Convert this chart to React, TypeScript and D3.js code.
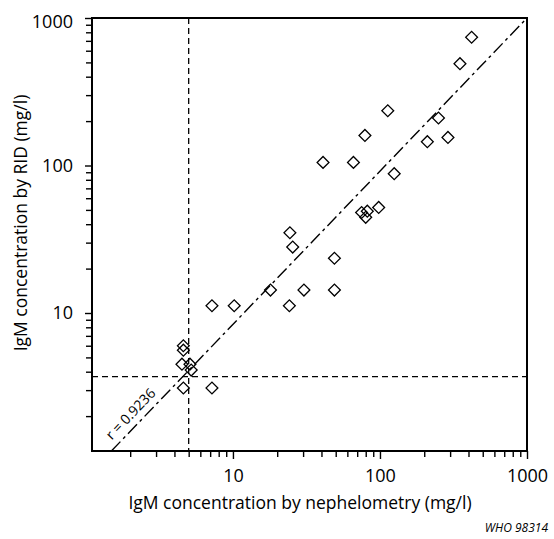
import * as d3 from "d3";
import React, { useEffect, useRef } from "react";

// nephelometry (x) vs RID (y), mg/l
const nephelometry = [
    420, 350, 113, 79, 41, 66, 250, 210, 290, 125, 98, 75, 82, 80,
    24.4, 25.5, 49, 18, 30.4, 49, 24.2, 7.2, 10.2,
    4.6, 4.6, 4.5, 5.1, 5.2, 4.6, 7.2,
];
const rid = [
    740, 490, 235, 160, 105, 105, 210, 145, 155, 88, 52, 48, 49, 44.5,
    35, 28, 23.5, 14.3, 14.3, 14.3, 11.2, 11.2, 11.2,
    6.0, 5.6, 4.5, 4.5, 4.1, 3.1, 3.1,
];
const majorTicks = [10, 100, 1000];
const minorTicks = [1, 10, 100].flatMap((d) => [2, 3, 4, 5, 6, 7, 8, 9].map((m) => m * d));
const fitLine = [
    [1.49, 1.16],
    [1000, 1000],
];
const cutoffX = 5;
const cutoffY = 3.7;
const rLabel = "r = 0.9236";

const W = 554;
const H = 539;
const font = "'Open Sans', sans-serif";

export default function App() {
    const ref = useRef<SVGSVGElement>(null);

    useEffect(() => {
        const svg = d3.select(ref.current);
        svg.selectAll("*").remove();

        const x = d3.scaleLog().domain([1.1, 1000]).range([92, 527]);
        const y = d3.scaleLog().domain([1.16, 1000]).range([451, 18]);

        svg.append("defs")
            .append("clipPath")
            .attr("id", "plot")
            .append("rect")
            .attr("x", 92)
            .attr("y", 18)
            .attr("width", 435)
            .attr("height", 433);

        const g = svg.append("g");

        // cutoff lines
        g.append("line")
            .attr("x1", x(cutoffX))
            .attr("x2", x(cutoffX))
            .attr("y1", y.range()[1])
            .attr("y2", y.range()[0])
            .attr("stroke", "#000")
            .attr("stroke-width", 1.3)
            .attr("stroke-dasharray", "6,4");
        g.append("line")
            .attr("x1", x.range()[0])
            .attr("x2", x.range()[1])
            .attr("y1", y(cutoffY))
            .attr("y2", y(cutoffY))
            .attr("stroke", "#000")
            .attr("stroke-width", 1.2)
            .attr("stroke-dasharray", "6,4");

        // regression line
        const line = d3
            .line<number[]>()
            .x((d) => x(d[0]))
            .y((d) => y(d[1]));
        g.append("path")
            .attr("clip-path", "url(#plot)")
            .attr("d", line(fitLine))
            .attr("fill", "none")
            .attr("stroke", "#000")
            .attr("stroke-width", 1.4)
            .attr("stroke-dasharray", "13,4,3,4");

        // r label along the line
        const [p0, p1] = fitLine.map((d) => [x(d[0]), y(d[1])]);
        const angle = (Math.atan2(p1[1] - p0[1], p1[0] - p0[0]) * 180) / Math.PI;
        const lx = x(2.3);
        const ly = p0[1] + ((lx - p0[0]) * (p1[1] - p0[1])) / (p1[0] - p0[0]);
        g.append("text")
            .attr("transform", `translate(${lx},${ly}) rotate(${angle})`)
            .attr("y", -7)
            .attr("text-anchor", "middle")
            .style("font-family", font)
            .style("font-size", "14px")
            .text(rLabel);

        // points
        const pts = nephelometry.map((v, i) => [v, rid[i]]);
        g.selectAll(null)
            .data(pts)
            .enter()
            .append("path")
            .attr("d", d3.symbol(d3.symbolSquare, 70)())
            .attr("transform", (d) => `translate(${x(d[0])},${y(d[1])}) rotate(45)`)
            .attr("fill", "none")
            .attr("stroke", "#000")
            .attr("stroke-width", 1.3);

        // axes
        const styleAxis = (a) => {
            a.select(".domain").remove();
            a.selectAll("line").attr("stroke-width", 1.4);
            a.selectAll("text").style("font-family", font).style("font-size", "18px").attr("fill", "#000");
        };
        svg.append("g")
            .attr("transform", `translate(0,${y.range()[0]})`)
            .call(d3.axisBottom(x).tickValues(minorTicks.filter((d) => d >= 1.1)).tickSize(6).tickFormat(() => ""))
            .call(styleAxis);
        svg.append("g")
            .attr("transform", `translate(0,${y.range()[0]})`)
            .call(d3.axisBottom(x).tickValues(majorTicks).tickSize(8).tickPadding(10).tickFormat(d3.format("d")))
            .call(styleAxis);
        svg.append("g")
            .attr("transform", `translate(${x.range()[0]},0)`)
            .call(d3.axisLeft(y).tickValues(minorTicks.filter((d) => d >= 1.16)).tickSize(6).tickFormat(() => ""))
            .call(styleAxis);
        svg.append("g")
            .attr("transform", `translate(${x.range()[0]},0)`)
            .call(d3.axisLeft(y).tickValues(majorTicks).tickSize(7).tickPadding(12).tickFormat(d3.format("d")))
            .call(styleAxis)
            .selectAll("text")
            .attr("dy", (d) => (d === 1000 ? "0.5em" : "0.32em"));

        // frame
        svg.append("rect")
            .attr("x", 92)
            .attr("y", 18)
            .attr("width", 435)
            .attr("height", 433)
            .attr("fill", "none")
            .attr("stroke", "#000")
            .attr("stroke-width", 2);

        // axis titles
        svg.append("text")
            .attr("x", 300)
            .attr("y", 509)
            .attr("text-anchor", "middle")
            .style("font-family", font)
            .style("font-size", "17.5px")
            .text("IgM concentration by nephelometry (mg/l)");
        svg.append("text")
            .attr("transform", `translate(27,223) rotate(-90)`)
            .attr("text-anchor", "middle")
            .style("font-family", font)
            .style("font-size", "17.5px")
            .text("IgM concentration by RID (mg/l)");
        svg.append("text")
            .attr("x", 548)
            .attr("y", 532)
            .attr("text-anchor", "end")
            .style("font-family", font)
            .style("font-style", "italic")
            .style("font-size", "12px")
            .text("WHO 98314");
    }, []);

    return (
        <svg
            ref={ref}
            width={W}
            height={H}
            style={{ position: "absolute", left: 0, top: 0, background: "#fff" }}
        />
    );
}
